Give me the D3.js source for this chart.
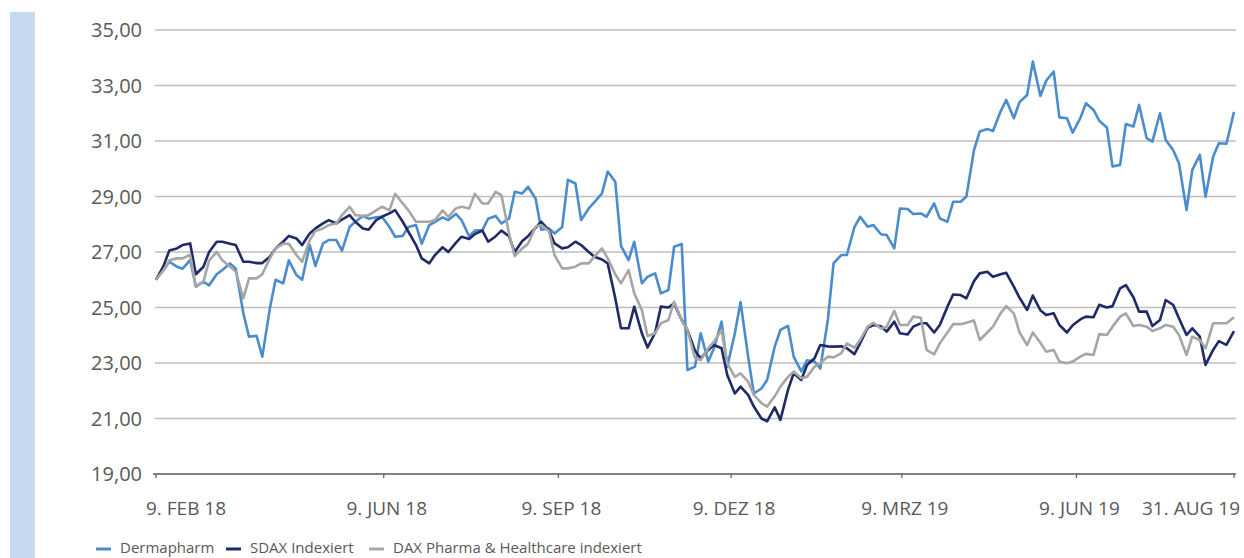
<!DOCTYPE html>
<html><head><meta charset="utf-8">
<script src="https://cdn.jsdelivr.net/npm/d3@7"></script>
<style>
html,body{margin:0;padding:0;background:#fff;}
svg{display:block;}
text{font-family:"Open Sans",sans-serif;fill:#595959;}
</style></head><body>
<svg id="c" width="1244" height="558"></svg>
<script>
const dates = ["2018-02-09","2018-02-13","2018-02-16","2018-02-20","2018-02-23","2018-02-27","2018-03-02","2018-03-06","2018-03-09","2018-03-13","2018-03-16","2018-03-20","2018-03-23","2018-03-27","2018-03-30","2018-04-03","2018-04-06","2018-04-10","2018-04-13","2018-04-17","2018-04-20","2018-04-24","2018-04-27","2018-05-01","2018-05-04","2018-05-08","2018-05-11","2018-05-15","2018-05-18","2018-05-22","2018-05-25","2018-05-29","2018-06-01","2018-06-05","2018-06-08","2018-06-12","2018-06-15","2018-06-19","2018-06-22","2018-06-26","2018-06-29","2018-07-03","2018-07-06","2018-07-10","2018-07-13","2018-07-17","2018-07-20","2018-07-24","2018-07-27","2018-07-31","2018-08-03","2018-08-07","2018-08-10","2018-08-14","2018-08-17","2018-08-21","2018-08-24","2018-08-28","2018-08-31","2018-09-04","2018-09-07","2018-09-11","2018-09-14","2018-09-18","2018-09-21","2018-09-25","2018-09-28","2018-10-02","2018-10-05","2018-10-09","2018-10-12","2018-10-16","2018-10-19","2018-10-23","2018-10-26","2018-10-30","2018-11-02","2018-11-06","2018-11-09","2018-11-13","2018-11-16","2018-11-20","2018-11-23","2018-11-27","2018-11-30","2018-12-04","2018-12-07","2018-12-11","2018-12-14","2018-12-18","2018-12-21","2018-12-25","2018-12-28","2019-01-01","2019-01-04","2019-01-08","2019-01-11","2019-01-15","2019-01-18","2019-01-22","2019-01-25","2019-01-29","2019-02-01","2019-02-05","2019-02-08","2019-02-12","2019-02-15","2019-02-19","2019-02-22","2019-02-26","2019-03-01","2019-03-05","2019-03-08","2019-03-12","2019-03-15","2019-03-19","2019-03-22","2019-03-26","2019-03-29","2019-04-02","2019-04-05","2019-04-09","2019-04-12","2019-04-16","2019-04-19","2019-04-23","2019-04-26","2019-04-30","2019-05-03","2019-05-07","2019-05-10","2019-05-14","2019-05-17","2019-05-21","2019-05-24","2019-05-28","2019-05-31","2019-06-04","2019-06-07","2019-06-11","2019-06-14","2019-06-18","2019-06-21","2019-06-25","2019-06-28","2019-07-02","2019-07-05","2019-07-09","2019-07-12","2019-07-16","2019-07-19","2019-07-23","2019-07-26","2019-07-30","2019-08-02","2019-08-06","2019-08-09","2019-08-13","2019-08-16","2019-08-20","2019-08-23","2019-08-27","2019-08-31"];

const dermapharm = [26.0,26.35,26.65,26.47,26.4,26.71,25.75,25.93,25.8,26.2,26.35,26.59,26.4,24.8,23.95,23.98,23.23,24.97,26.0,25.87,26.7,26.17,26.0,27.25,26.5,27.31,27.43,27.43,27.05,27.9,28.09,28.3,28.2,28.25,28.27,27.9,27.55,27.58,27.9,27.97,27.3,27.97,28.09,
28.25,28.15,28.37,28.15,27.57,27.77,27.79,28.2,28.3,28.03,28.2,29.17,29.11,29.35,28.93,27.8,27.85,27.67,27.9,29.6,29.47,28.15,28.57,
28.8,29.11,29.9,29.53,27.22,26.71,27.37,25.87,26.11,26.23,25.51,25.63,27.19,27.29,22.75,22.87,24.07,
23.05,23.53,24.49,22.87,24.07,25.2,23.23,21.9,22.08,22.39,
23.59,24.19,24.34,23.23,22.7,23.1,23.05,22.8,24.55,26.59,26.89,26.89,27.9,28.27,27.91,27.97,27.64,27.61,27.13,28.57,28.55,28.37,28.39,28.27,28.75,28.21,28.09,28.81,28.81,29.0,30.67,31.34,31.43,31.36,32.06,32.48,31.82,
32.4,32.66,33.86,32.62,33.17,33.5,31.85,31.82,31.3,31.82,32.36,32.12,31.73,31.49,30.08,30.14,31.61,31.52,32.3,31.1,30.98,32.0,31.04,30.67,30.2,28.51,29.95,30.5,28.99,30.43,30.92,30.9,32.05];

const sdax = [26.0,26.5,27.05,27.13,27.25,27.31,26.2,26.47,27.0,27.37,27.37,27.3,27.25,26.65,26.65,26.6,26.6,26.83,27.13,27.37,27.58,27.49,27.25,27.67,27.85,28.03,28.15,28.03,28.17,28.33,28.09,27.85,27.8,28.15,28.27,28.39,28.51,28.09,27.73,27.25,26.77,26.59,26.89,
27.17,27.0,27.33,27.55,27.47,27.65,27.77,27.37,27.57,27.77,27.57,27.0,27.4,27.57,27.87,28.09,27.79,27.31,27.13,27.17,27.37,27.25,27.0,
26.83,26.73,26.59,25.33,24.25,24.25,25.03,24.07,23.56,24.09,25.03,25.0,25.15,24.55,24.19,23.44,23.17,
23.47,23.65,23.53,22.57,21.9,22.15,21.85,21.43,21.0,20.9,
21.4,20.95,22.03,22.63,22.39,22.93,23.17,23.65,23.6,23.59,23.6,23.53,23.32,23.71,24.27,24.37,24.32,24.13,24.49,24.07,24.03,24.31,24.43,24.43,24.1,24.37,25.03,25.47,25.45,25.33,25.95,26.23,26.29,26.11,26.2,26.25,25.75,
25.35,24.91,25.43,24.9,24.73,24.79,24.37,24.1,24.36,24.57,24.67,24.65,25.1,25.0,25.05,25.69,25.81,25.37,24.85,24.85,24.33,24.55,25.27,25.09,24.61,24.01,24.25,23.95,22.93,23.47,23.79,23.65,24.15];

const daxPharma = [26.0,26.35,26.7,26.77,26.77,26.9,25.75,25.93,26.7,27.0,26.7,26.47,26.3,25.33,26.05,26.05,26.2,26.77,27.13,27.3,27.3,26.89,26.65,27.43,27.76,27.85,27.97,28.03,28.33,28.63,28.33,28.3,28.33,28.5,28.63,28.5,29.1,28.75,28.5,28.09,28.09,28.09,28.15,
28.5,28.27,28.57,28.63,28.57,29.1,28.75,28.75,29.17,29.05,27.67,26.85,27.13,27.3,27.91,27.97,27.76,26.89,26.41,26.41,26.47,26.59,26.59,
26.83,27.13,26.77,26.2,25.87,26.35,25.51,24.91,23.97,24.07,24.43,24.55,25.21,24.55,24.19,23.17,23.11,
23.53,23.77,24.19,22.99,22.5,22.63,22.33,21.85,21.55,21.43,
21.8,22.15,22.5,22.69,22.45,22.5,22.87,22.99,23.23,23.2,23.35,23.71,23.55,23.83,24.31,24.45,24.24,24.31,24.88,24.37,24.37,24.67,24.63,23.47,23.31,23.71,24.1,24.4,24.4,24.45,24.53,23.83,24.1,24.31,24.79,25.05,24.79,
24.1,23.65,24.1,23.73,23.41,23.47,23.05,22.99,23.05,23.23,23.33,23.29,24.04,24.01,24.31,24.67,24.79,24.33,24.37,24.31,24.15,24.25,24.37,24.31,24.01,23.29,23.95,23.83,23.53,24.43,24.43,24.43,24.65];

const seriesNames = ["Dermapharm","SDAX Indexiert","DAX Pharma & Healthcare indexiert"];
const seriesColors = ["#4a8ccc","#1f2a66","#a6a6a6"];
const yTicks = [19,21,23,25,27,29,31,33,35];
const xTickDates = ["2018-02-09","2018-06-09","2018-09-09","2018-12-09","2019-03-09","2019-06-09","2019-08-31"];
const xTickLabels = ["9. FEB 18","9. JUN 18","9. SEP 18","9. DEZ 18","9. MRZ 19","9. JUN 19","31. AUG 19"];

const parse = d3.timeParse("%Y-%m-%d");
const svg = d3.select("#c");

// left decorative bar
svg.append("rect").attr("x",10).attr("y",12).attr("width",25).attr("height",546).attr("fill","#c6d9f0");

const x = d3.scaleTime().domain([parse("2018-02-09"), parse("2019-08-31")]).range([156,1234]);
const y = d3.scaleLinear().domain([19,35]).range([474,30]);

// gridlines
svg.append("g").selectAll("line").data(yTicks.filter(v=>v>19)).join("line")
  .attr("x1",155).attr("x2",1236).attr("y1",d=>y(d)).attr("y2",d=>y(d))
  .attr("stroke","#bfbfbf").attr("stroke-width",1.3);

// y labels
svg.append("g").selectAll("text").data(yTicks).join("text")
  .attr("x",142).attr("y",d=>y(d)).attr("dy","0.36em").attr("text-anchor","end")
  .style("font-size","20px").text(d=>d3.format(".2f")(d).replace(".",","));

// x axis line and ticks
svg.append("line").attr("x1",153).attr("x2",1236).attr("y1",y(19)).attr("y2",y(19))
  .attr("stroke","#595959").attr("stroke-width",1.5);
svg.append("g").selectAll("line").data(xTickDates).join("line")
  .attr("x1",d=>x(parse(d))).attr("x2",d=>x(parse(d)))
  .attr("y1",y(19)).attr("y2",y(19)+4).attr("stroke","#595959").attr("stroke-width",1.2);

svg.append("g").selectAll("text").data(xTickDates).join("text")
  .attr("x",(d,i)=> i===0 ? 146 : (i===xTickDates.length-1 ? 1240 : x(parse(d))+3))
  .attr("y",515)
  .attr("text-anchor",(d,i)=> i===0 ? "start" : (i===xTickDates.length-1 ? "end" : "middle"))
  .style("font-size","19px").text((d,i)=>xTickLabels[i]);

// lines
const allSeries = [dermapharm, sdax, daxPharma];
const line = d3.line().x((d,i)=>x(parse(dates[i]))).y(d=>y(d));
allSeries.forEach((s,k)=>{
  svg.append("path").datum(s).attr("d",line).attr("fill","none")
    .attr("stroke",seriesColors[k]).attr("stroke-width",2.6).attr("stroke-linejoin","round");
});

// legend
const legendX = [96, 226, 369];
const legendTextX = [120, 250, 393];
const lg = svg.append("g");
seriesNames.forEach((n,k)=>{
  lg.append("line").attr("x1",legendX[k]).attr("x2",legendX[k]+15).attr("y1",549).attr("y2",549)
    .attr("stroke",seriesColors[k]).attr("stroke-width",3);
  lg.append("text").attr("x",legendTextX[k]).attr("y",553).style("font-size","15px").text(n);
});
</script>
</body></html>
